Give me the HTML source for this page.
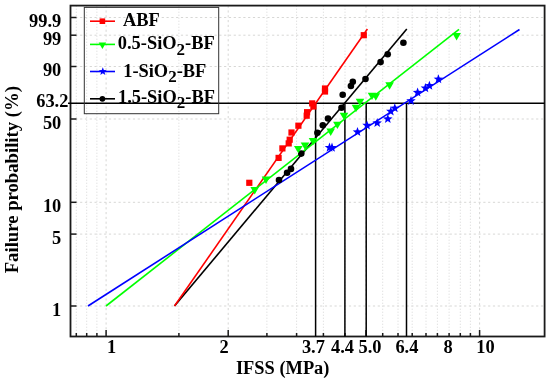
<!DOCTYPE html><html><head><meta charset="utf-8"><title>Weibull plot</title><style>html,body{margin:0;padding:0;background:#fff}svg{display:block}text{font-family:"Liberation Serif",serif;font-weight:bold;fill:#000}</style></head><body>
<svg width="550" height="384" viewBox="0 0 550 384">
<rect width="550" height="384" fill="#fff"/>
<g stroke="#d7d7d5" stroke-width="1" stroke-dasharray="2.2 2.6" fill="none">
<path d="M70.5 17.5H544.6"/>
<path d="M70.5 35.2H544.6"/>
<path d="M70.5 66.5H544.6"/>
<path d="M70.5 119.0H544.6"/>
<path d="M70.5 202.3H544.6"/>
<path d="M70.5 234.1H544.6"/>
<path d="M70.5 306.0H544.6"/>
<path d="M106.1 5.6V336.5"/>
<path d="M228.2 5.6V336.5"/>
<path d="M366.0 5.6V336.5"/>
<path d="M479.6 5.6V336.5"/>
</g>
<g stroke="#e2e2e2" stroke-width="1" stroke-dasharray="1.4 1.6" fill="none">
<path d="M76.3 5.6V336.5"/>
<path d="M86.7 5.6V336.5"/>
<path d="M96.9 5.6V336.5"/>
<path d="M178.9 5.6V336.5"/>
<path d="M266.9 5.6V336.5"/>
<path d="M296.6 5.6V336.5"/>
<path d="M323.4 5.6V336.5"/>
<path d="M345.0 5.6V336.5"/>
<path d="M382.7 5.6V336.5"/>
<path d="M398.0 5.6V336.5"/>
<path d="M412.2 5.6V336.5"/>
<path d="M426.0 5.6V336.5"/>
<path d="M437.4 5.6V336.5"/>
<path d="M449.1 5.6V336.5"/>
<path d="M460.3 5.6V336.5"/>
<path d="M470.4 5.6V336.5"/>
</g>
<rect x="70.5" y="5.6" width="474.1" height="330.9" fill="none" stroke="#1a1a1a" stroke-width="1.8"/>
<g stroke="#1a1a1a" stroke-width="1.5" fill="none">
<path d="M70.5 17.5h6"/>
<path d="M70.5 35.2h6"/>
<path d="M70.5 66.5h6"/>
<path d="M70.5 119.0h6"/>
<path d="M70.5 202.3h6"/>
<path d="M70.5 234.1h6"/>
<path d="M70.5 306.0h6"/>
<path d="M106.1 336.5v-6.5"/>
<path d="M228.2 336.5v-6.5"/>
<path d="M366.0 336.5v-6.5"/>
<path d="M479.6 336.5v-6.5"/>
<path d="M76.3 336.5v-3.5"/>
<path d="M86.7 336.5v-3.5"/>
<path d="M96.9 336.5v-3.5"/>
<path d="M178.9 336.5v-3.5"/>
<path d="M266.9 336.5v-3.5"/>
<path d="M296.6 336.5v-3.5"/>
<path d="M323.4 336.5v-3.5"/>
<path d="M345.0 336.5v-3.5"/>
<path d="M382.7 336.5v-3.5"/>
<path d="M398.0 336.5v-3.5"/>
<path d="M412.2 336.5v-3.5"/>
<path d="M426.0 336.5v-3.5"/>
<path d="M437.4 336.5v-3.5"/>
<path d="M449.1 336.5v-3.5"/>
<path d="M460.3 336.5v-3.5"/>
<path d="M470.4 336.5v-3.5"/>
</g>
<g stroke="#000" stroke-width="1.5" fill="none">
<path d="M68 103.2H544.6"/>
<path d="M315.6 103.2V336.5"/>
<path d="M344.9 103.2V336.5"/>
<path d="M366.2 103.2V336.5"/>
<path d="M406.5 103.2V336.5"/>
</g>
<path d="M174.5 306L406.8 29.0" stroke="#000000" stroke-width="1.6" fill="none"/>
<path d="M174.5 306L367.4 29.0" stroke="#ff0000" stroke-width="1.6" fill="none"/>
<path d="M106.0 306L459.0 29.4" stroke="#00ff00" stroke-width="1.6" fill="none"/>
<path d="M88.0 306L519.5 29.5" stroke="#0000ff" stroke-width="1.6" fill="none"/>
<g>
<circle cx="279.0" cy="180.0" r="3.3" fill="#000"/>
<circle cx="287.1" cy="172.8" r="3.3" fill="#000"/>
<circle cx="291.0" cy="168.9" r="3.3" fill="#000"/>
<circle cx="301.3" cy="153.6" r="3.3" fill="#000"/>
<circle cx="317.4" cy="132.8" r="3.3" fill="#000"/>
<circle cx="322.8" cy="125.2" r="3.3" fill="#000"/>
<circle cx="328.0" cy="118.5" r="3.3" fill="#000"/>
<circle cx="341.5" cy="107.7" r="3.3" fill="#000"/>
<circle cx="342.7" cy="94.7" r="3.3" fill="#000"/>
<circle cx="350.9" cy="86.0" r="3.3" fill="#000"/>
<circle cx="352.8" cy="81.7" r="3.3" fill="#000"/>
<circle cx="365.5" cy="79.0" r="3.3" fill="#000"/>
<circle cx="380.6" cy="62.1" r="3.3" fill="#000"/>
<circle cx="387.7" cy="54.2" r="3.3" fill="#000"/>
<circle cx="403.4" cy="42.8" r="3.3" fill="#000"/>
<rect x="246.20" y="179.70" width="6.2" height="6.2" fill="#ff0000"/>
<rect x="275.50" y="154.80" width="6.2" height="6.2" fill="#ff0000"/>
<rect x="279.30" y="145.30" width="6.2" height="6.2" fill="#ff0000"/>
<rect x="285.60" y="140.30" width="6.2" height="6.2" fill="#ff0000"/>
<rect x="286.60" y="136.60" width="6.2" height="6.2" fill="#ff0000"/>
<rect x="288.40" y="129.40" width="6.2" height="6.2" fill="#ff0000"/>
<rect x="295.30" y="122.60" width="6.2" height="6.2" fill="#ff0000"/>
<rect x="303.60" y="112.60" width="6.2" height="6.2" fill="#ff0000"/>
<rect x="304.00" y="109.10" width="6.2" height="6.2" fill="#ff0000"/>
<rect x="310.30" y="103.40" width="6.2" height="6.2" fill="#ff0000"/>
<rect x="309.10" y="100.30" width="6.2" height="6.2" fill="#ff0000"/>
<rect x="321.90" y="88.40" width="6.2" height="6.2" fill="#ff0000"/>
<rect x="321.90" y="85.40" width="6.2" height="6.2" fill="#ff0000"/>
<rect x="360.70" y="32.10" width="6.2" height="6.2" fill="#ff0000"/>
<path d="M250.40 187.09H259.00L254.70 194.48Z" fill="#00ff00"/>
<path d="M261.70 176.49H270.30L266.00 183.88Z" fill="#00ff00"/>
<path d="M294.00 145.89H302.60L298.30 153.28Z" fill="#00ff00"/>
<path d="M300.70 142.49H309.30L305.00 149.88Z" fill="#00ff00"/>
<path d="M308.70 137.89H317.30L313.00 145.28Z" fill="#00ff00"/>
<path d="M326.40 128.49H335.00L330.70 135.88Z" fill="#00ff00"/>
<path d="M333.10 121.69H341.70L337.40 129.08Z" fill="#00ff00"/>
<path d="M339.70 112.69H348.30L344.00 120.08Z" fill="#00ff00"/>
<path d="M351.70 104.79H360.30L356.00 112.18Z" fill="#00ff00"/>
<path d="M355.70 98.69H364.30L360.00 106.08Z" fill="#00ff00"/>
<path d="M367.70 92.69H376.30L372.00 100.08Z" fill="#00ff00"/>
<path d="M371.50 93.29H380.10L375.80 100.68Z" fill="#00ff00"/>
<path d="M385.30 82.29H393.90L389.60 89.68Z" fill="#00ff00"/>
<path d="M452.30 32.99H460.90L456.60 40.38Z" fill="#00ff00"/>
<polygon points="329.50,142.60 330.73,145.90 334.26,146.05 331.50,148.25 332.44,151.65 329.50,149.70 326.56,151.65 327.50,148.25 324.74,146.05 328.27,145.90" fill="#0000ff"/>
<polygon points="332.00,142.60 333.23,145.90 336.76,146.05 334.00,148.25 334.94,151.65 332.00,149.70 329.06,151.65 330.00,148.25 327.24,146.05 330.77,145.90" fill="#0000ff"/>
<polygon points="357.50,127.00 358.73,130.30 362.26,130.45 359.50,132.65 360.44,136.05 357.50,134.10 354.56,136.05 355.50,132.65 352.74,130.45 356.27,130.30" fill="#0000ff"/>
<polygon points="367.00,120.40 368.23,123.70 371.76,123.85 369.00,126.05 369.94,129.45 367.00,127.50 364.06,129.45 365.00,126.05 362.24,123.85 365.77,123.70" fill="#0000ff"/>
<polygon points="377.20,118.00 378.43,121.30 381.96,121.45 379.20,123.65 380.14,127.05 377.20,125.10 374.26,127.05 375.20,123.65 372.44,121.45 375.97,121.30" fill="#0000ff"/>
<polygon points="387.80,114.00 389.03,117.30 392.56,117.45 389.80,119.65 390.74,123.05 387.80,121.10 384.86,123.05 385.80,119.65 383.04,117.45 386.57,117.30" fill="#0000ff"/>
<polygon points="390.80,106.40 392.03,109.70 395.56,109.85 392.80,112.05 393.74,115.45 390.80,113.50 387.86,115.45 388.80,112.05 386.04,109.85 389.57,109.70" fill="#0000ff"/>
<polygon points="394.80,103.20 396.03,106.50 399.56,106.65 396.80,108.85 397.74,112.25 394.80,110.30 391.86,112.25 392.80,108.85 390.04,106.65 393.57,106.50" fill="#0000ff"/>
<polygon points="411.00,95.90 412.23,99.20 415.76,99.35 413.00,101.55 413.94,104.95 411.00,103.00 408.06,104.95 409.00,101.55 406.24,99.35 409.77,99.20" fill="#0000ff"/>
<polygon points="417.60,87.50 418.83,90.80 422.36,90.95 419.60,93.15 420.54,96.55 417.60,94.60 414.66,96.55 415.60,93.15 412.84,90.95 416.37,90.80" fill="#0000ff"/>
<polygon points="425.40,83.10 426.63,86.40 430.16,86.55 427.40,88.75 428.34,92.15 425.40,90.20 422.46,92.15 423.40,88.75 420.64,86.55 424.17,86.40" fill="#0000ff"/>
<polygon points="429.40,80.70 430.63,84.00 434.16,84.15 431.40,86.35 432.34,89.75 429.40,87.80 426.46,89.75 427.40,86.35 424.64,84.15 428.17,84.00" fill="#0000ff"/>
<polygon points="438.40,74.20 439.63,77.50 443.16,77.65 440.40,79.85 441.34,83.25 438.40,81.30 435.46,83.25 436.40,79.85 433.64,77.65 437.17,77.50" fill="#0000ff"/>
</g>
<rect x="84.3" y="7.4" width="134.4" height="106.3" fill="none" stroke="#333" stroke-width="1"/>
<path d="M90 21.2H115" stroke="#ff0000" stroke-width="1.6"/>
<rect x="99.60" y="18.40" width="5.6" height="5.6" fill="#ff0000"/>
<text x="123.0" y="25.8" font-size="18.4">ABF</text>
<path d="M90 44.4H115" stroke="#00ff00" stroke-width="1.6"/>
<path d="M98.60 42.38H106.20L102.40 48.91Z" fill="#00ff00"/>
<text x="117.8" y="49.0" font-size="18.4">0.5-SiO<tspan dy="5.5" font-size="17">2</tspan><tspan dy="-5.5">-BF</tspan></text>
<path d="M90 71.5H115" stroke="#0000ff" stroke-width="1.6"/>
<polygon points="102.80,67.30 103.84,70.07 106.79,70.20 104.48,72.05 105.27,74.90 102.80,73.26 100.33,74.90 101.12,72.05 98.81,70.20 101.76,70.07" fill="#0000ff"/>
<text x="123.2" y="76.5" font-size="18.4">1-SiO<tspan dy="5.5" font-size="17">2</tspan><tspan dy="-5.5">-BF</tspan></text>
<path d="M90 98.8H115" stroke="#000000" stroke-width="1.6"/>
<circle cx="102.4" cy="98.8" r="2.9" fill="#000"/>
<text x="118.0" y="102.9" font-size="18.4">1.5-SiO<tspan dy="5.5" font-size="17">2</tspan><tspan dy="-5.5">-BF</tspan></text>
<text x="61.3" y="27.0" font-size="18.4" text-anchor="end">99.9</text>
<text x="61.3" y="44.7" font-size="18.4" text-anchor="end">99</text>
<text x="61.3" y="76.0" font-size="18.4" text-anchor="end">90</text>
<text x="61.3" y="128.5" font-size="18.4" text-anchor="end">50</text>
<text x="61.3" y="211.8" font-size="18.4" text-anchor="end">10</text>
<text x="61.3" y="243.6" font-size="18.4" text-anchor="end">5</text>
<text x="61.3" y="315.5" font-size="18.4" text-anchor="end">1</text>
<text x="68.4" y="107.2" font-size="18.4" text-anchor="end">63.2</text>
<text x="111.5" y="353.3" font-size="18.4" text-anchor="middle">1</text>
<text x="224.0" y="353.3" font-size="18.4" text-anchor="middle">2</text>
<text x="313.4" y="353.3" font-size="18.4" text-anchor="middle">3.7</text>
<text x="342.5" y="353.3" font-size="18.4" text-anchor="middle">4.4</text>
<text x="370.0" y="353.3" font-size="18.4" text-anchor="middle">5.0</text>
<text x="406.9" y="353.3" font-size="18.4" text-anchor="middle">6.4</text>
<text x="448.1" y="353.3" font-size="18.4" text-anchor="middle">8</text>
<text x="485.4" y="353.3" font-size="18.4" text-anchor="middle">10</text>
<text x="282.7" y="374.3" font-size="18.4" text-anchor="middle">IFSS (MPa)</text>
<text transform="translate(17.7 179.7) rotate(-90)" font-size="18.7" text-anchor="middle">Failure probability (%)</text>
</svg></body></html>
